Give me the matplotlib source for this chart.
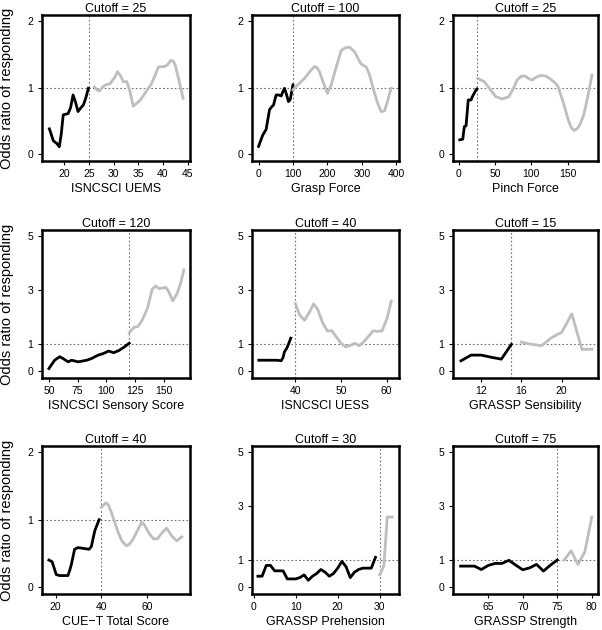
import numpy as np
import matplotlib
matplotlib.use("Agg")
import matplotlib.pyplot as plt

plt.rcParams['font.family'] = ['Liberation Sans', 'DejaVu Sans']

# ---- data (x, odds ratio) ----
uems_lo_x = [17, 17.8, 18.5, 19, 19.4, 19.8, 20.8, 21.3, 21.8, 22.3, 22.8, 23.4, 23.9, 24.4, 24.9]
uems_lo_y = [0.38, 0.2, 0.16, 0.11, 0.3, 0.59, 0.61, 0.7, 0.89, 0.78, 0.64, 0.7, 0.74, 0.85, 0.99]
uems_hi_x = [26.1, 26.6, 27.1, 27.7, 28.3, 29.3, 30.2, 30.8, 31.4, 32, 32.7, 33.3, 34, 35.4, 36.5, 37.7,
             38.5, 39.1, 40.4, 41, 41.6, 42.1, 42.5, 43.3, 44.1]
uems_hi_y = [1.01, 0.97, 0.95, 1.0, 1.04, 1.06, 1.15, 1.24, 1.18, 1.09, 1.09, 0.95, 0.72, 0.81, 0.93, 1.06,
             1.2, 1.31, 1.32, 1.35, 1.41, 1.4, 1.34, 1.1, 0.84]

grasp_lo_x = [0, 6, 12.6, 22, 27, 32, 38, 43.6, 51, 58, 66, 70, 75.5, 81, 87, 92, 96, 100]
grasp_lo_y = [0.115, 0.2, 0.29, 0.37, 0.52, 0.67, 0.71, 0.74, 0.89, 0.89, 0.875, 0.93, 0.99, 0.9, 0.79, 0.82, 0.93, 1.04]
grasp_hi_x = [100, 115, 134, 150, 163, 170, 177, 190, 200, 211, 225, 240, 252, 264, 279, 297, 313, 322,
              332, 345, 356, 366, 375, 385]
grasp_hi_y = [0.965, 1.05, 1.14, 1.25, 1.32, 1.3, 1.24, 1.05, 0.915, 1.04, 1.3, 1.56, 1.6, 1.61, 1.54, 1.36,
              1.31, 1.2, 1.01, 0.78, 0.64, 0.65, 0.8, 0.99]

pinch_lo_x = [1.4, 5.5, 6.5, 7.7, 10, 11.5, 13, 17, 18.5, 20, 22, 23.6, 25]
pinch_lo_y = [0.215, 0.225, 0.32, 0.415, 0.425, 0.62, 0.815, 0.815, 0.86, 0.89, 0.93, 0.965, 0.98]
pinch_hi_x = [26, 35, 43, 51, 60, 69, 75, 80.5, 86, 91, 96, 101, 107, 113.6, 121, 128, 134, 137, 144,
              151, 155, 159, 163, 167, 172, 176, 180, 183.6]
pinch_hi_y = [1.14, 1.09, 0.98, 0.865, 0.83, 0.865, 0.98, 1.115, 1.17, 1.175, 1.14, 1.115, 1.16, 1.185,
              1.17, 1.115, 1.06, 1.015, 0.78, 0.515, 0.4, 0.355, 0.38, 0.44, 0.58, 0.765, 0.98, 1.19]

sens_lo_x = [50, 55, 59.4, 62.4, 66.8, 69.7, 75.6, 83, 87, 93, 97.6, 102, 106.5, 111, 115, 120]
sens_lo_y = [0.09, 0.4, 0.53, 0.46, 0.34, 0.4, 0.34, 0.4, 0.46, 0.59, 0.65, 0.74, 0.68, 0.76, 0.87, 1.03]
sens_hi_x = [120, 124, 127.6, 131.5, 136, 140, 143, 146, 149, 152, 154.4, 158, 162, 165, 167.6]
sens_hi_y = [1.41, 1.62, 1.65, 1.9, 2.34, 3.03, 3.16, 3.06, 3.08, 3.1, 2.95, 2.6, 2.9, 3.28, 3.75]

uess_lo_x = [32, 34, 36, 36.9, 37.3, 37.6, 38.1, 38.5, 39]
uess_lo_y = [0.4, 0.4, 0.4, 0.38, 0.5, 0.71, 0.84, 1.0, 1.22]
uess_hi_x = [40, 40.9, 42, 43, 44, 44.9, 46, 47, 48, 48.9, 50, 51, 52.2, 53, 54, 55, 56, 57, 58, 59, 60.1, 61]
uess_hi_y = [2.5, 2.09, 1.88, 2.16, 2.49, 2.28, 1.78, 1.49, 1.49, 1.28, 1.03, 0.9, 0.96, 1.03, 0.94, 1.09,
             1.28, 1.49, 1.47, 1.49, 1.97, 2.59]

gsens_lo_x = [10, 11, 12, 13, 14, 15]
gsens_lo_y = [0.38, 0.59, 0.59, 0.51, 0.44, 0.99]
gsens_hi_x = [16, 17, 18, 19, 20, 21, 22, 23]
gsens_hi_y = [1.07, 0.99, 0.94, 1.24, 1.44, 2.12, 0.8, 0.81]

cuet_lo_x = [17.1, 18.5, 19.5, 20.3, 21.7, 25.4, 26.2, 26.9, 28.3, 29.8, 34.6, 35.6, 37.1, 39]
cuet_lo_y = [0.4, 0.375, 0.27, 0.185, 0.17, 0.17, 0.25, 0.335, 0.56, 0.585, 0.56, 0.6, 0.835, 1.0]
cuet_hi_x = [40, 41.9, 43, 44.3, 45.8, 47.3, 49, 50.9, 52.3, 53.8, 55.7, 57.5, 58.6, 59.7, 61.3, 62.9, 64.5,
             66.2, 68.4, 70.6, 72.8, 75]
cuet_hi_y = [1.185, 1.25, 1.22, 1.11, 0.96, 0.81, 0.68, 0.61, 0.64, 0.71, 0.84, 0.96, 0.93, 0.86, 0.77, 0.71,
             0.72, 0.795, 0.875, 0.76, 0.685, 0.745]

preh_lo_x = list(range(1, 30))
preh_lo_y = [0.4, 0.4, 0.8, 0.8, 0.6, 0.6, 0.6, 0.3, 0.3, 0.3, 0.35, 0.45, 0.25, 0.4, 0.5, 0.65, 0.55, 0.4,
             0.5, 0.7, 0.95, 0.75, 0.35, 0.55, 0.65, 0.7, 0.7, 0.7, 1.1]
preh_hi_x = [30, 31, 31.8, 33]
preh_hi_y = [0.45, 0.78, 2.6, 2.6]

stren_lo_x = list(range(61, 76))
stren_lo_y = [0.775, 0.775, 0.775, 0.65, 0.8, 0.875, 0.875, 0.99, 0.81, 0.64, 0.71, 0.84, 0.59, 0.81, 1.0]
stren_hi_x = [76, 77, 78, 79, 80]
stren_hi_y = [1.0, 1.34, 0.84, 1.31, 2.6]

cutoffs = [25, 100, 25, 120, 40, 15, 40, 30, 75]
xlabels = ["ISNCSCI UEMS", "Grasp Force", "Pinch Force",
           "ISNCSCI Sensory Score", "ISNCSCI UESS", "GRASSP Sensibility",
           "CUE\u2212T Total Score", "GRASSP Prehension", "GRASSP Strength"]
xticks = [[20, 25, 30, 35, 40, 45], [0, 100, 200, 300, 400], [0, 50, 100, 150],
          [50, 75, 100, 125, 150], [40, 50, 60], [12, 16, 20],
          [20, 40, 60], [0, 10, 20, 30], [65, 70, 75, 80]]
xlims = [(15.5, 45.5), (-19, 408), (-8, 192), (44, 173), (30.5, 62.7), (9.2, 23.6),
         (14.1, 78.6), (-0.4, 34.6), (59.9, 80.9)]
ymaxes = [2, 2, 2, 5, 5, 5, 2, 5, 5]

series = [(uems_lo_x, uems_lo_y, uems_hi_x, uems_hi_y),
          (grasp_lo_x, grasp_lo_y, grasp_hi_x, grasp_hi_y),
          (pinch_lo_x, pinch_lo_y, pinch_hi_x, pinch_hi_y),
          (sens_lo_x, sens_lo_y, sens_hi_x, sens_hi_y),
          (uess_lo_x, uess_lo_y, uess_hi_x, uess_hi_y),
          (gsens_lo_x, gsens_lo_y, gsens_hi_x, gsens_hi_y),
          (cuet_lo_x, cuet_lo_y, cuet_hi_x, cuet_hi_y),
          (preh_lo_x, preh_lo_y, preh_hi_x, preh_hi_y),
          (stren_lo_x, stren_lo_y, stren_hi_x, stren_hi_y)]

W, H = 602, 630
col_px = [(42, 148), (252, 147), (453, 145)]
row_px = [(15, 146), (230, 148), (446, 148)]

fig = plt.figure(figsize=(W / 100, H / 100), dpi=100)

for i in range(9):
    r, c = divmod(i, 3)
    left, w = col_px[c]
    top, h = row_px[r]
    ax = fig.add_axes([left / W, 1 - (top + h) / H, w / W, h / H])
    lx, ly, hx, hy = series[i]
    ax.plot(lx, ly, color="black", lw=2.0, solid_joinstyle="round", zorder=3)
    ax.plot(hx, hy, color="#BEBEBE", lw=2.0, solid_joinstyle="round", zorder=3)
    ax.axhline(1, color="#707070", lw=0.8, ls=(0, (1.5, 2)), zorder=1)
    ax.axvline(cutoffs[i], color="#707070", lw=0.8, ls=(0, (1.5, 2)), zorder=1)

    ym = ymaxes[i]
    pad = 0.052 * ym
    ax.set_ylim(-pad, ym + pad * 0.9)
    ax.set_yticks([0, 1, 2] if ym == 2 else [0, 1, 3, 5])
    ax.set_xlim(*xlims[i])
    ax.set_xticks(xticks[i])
    for s in ax.spines.values():
        s.set_linewidth(1.8)
    ax.tick_params(direction="out", length=3, width=0.8, labelsize=7.5)
    ax.tick_params(axis="x", pad=3)
    ax.tick_params(axis="y", pad=3.5)
    ax.set_title(f"Cutoff = {cutoffs[i]}", fontsize=9, pad=2)
    ax.set_xlabel(xlabels[i], fontsize=9, labelpad=2.5)
    if c == 0:
        ax.set_ylabel("Odds ratio of responding", fontsize=10.5)
        ax.yaxis.set_label_coords(-0.19, 0.5)

fig.savefig("out.png", dpi=100)
